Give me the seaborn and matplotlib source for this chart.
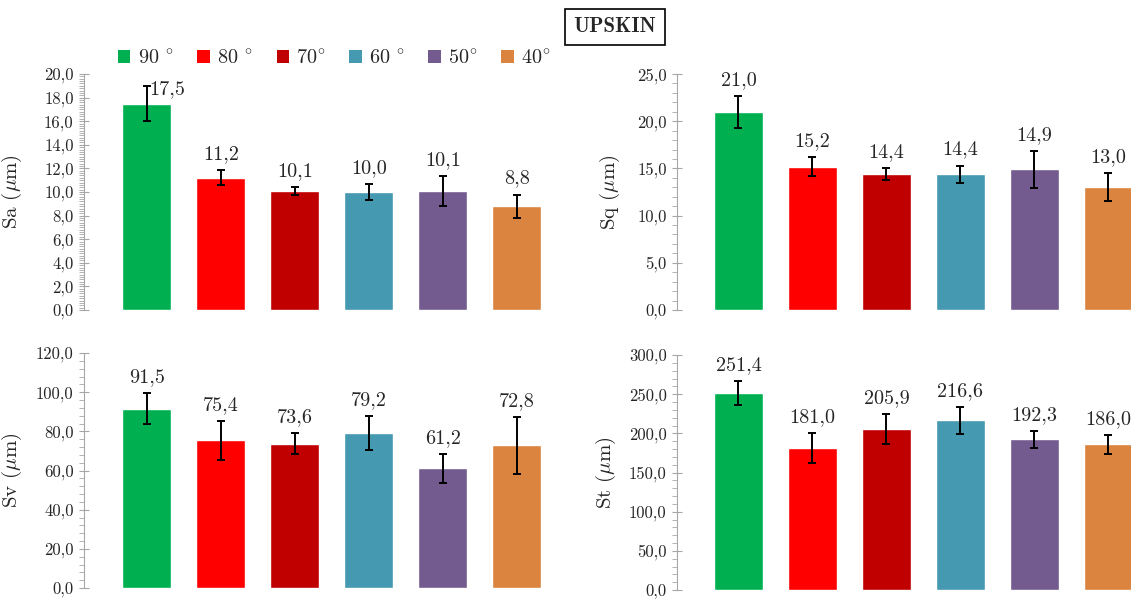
import matplotlib
matplotlib.use("Agg")
import matplotlib.pyplot as plt
from matplotlib.patches import Patch
from matplotlib.ticker import MultipleLocator, AutoMinorLocator, FuncFormatter
import seaborn as sns
import pandas as pd

# data
angles = ["90 $^{\\circ}$", "80 $^{\\circ}$", "70$^{\\circ}$", "60 $^{\\circ}$", "50$^{\\circ}$", "40$^{\\circ}$"]
colors = ["#00B050", "#FF0000", "#C00000", "#4599B1", "#735A8F", "#DA843F"]

sa_mean = [17.5, 11.2, 10.1, 10.0, 10.1, 8.8]
sa_err = [1.5, 0.63, 0.35, 0.68, 1.26, 0.98]
sq_mean = [21.0, 15.2, 14.4, 14.4, 14.9, 13.0]
sq_err = [1.68, 1.04, 0.62, 0.9, 1.93, 1.46]
sv_mean = [91.5, 75.4, 73.6, 79.2, 61.2, 72.8]
sv_err = [8.0, 9.9, 5.3, 8.7, 7.4, 14.5]
st_mean = [251.4, 181.0, 205.9, 216.6, 192.3, 186.0]
st_err = [15.2, 18.8, 19.0, 17.3, 10.7, 12.2]

sns.set_style("white")
plt.rcParams["font.family"] = ["cmr10", "DejaVu Serif"]
plt.rcParams["mathtext.fontset"] = "cm"
plt.rcParams["axes.unicode_minus"] = False

W, H = 1131, 599
fig = plt.figure(figsize=(W / 100, H / 100), dpi=100)

unit = 74.0  # pixels per bar slot
panels = [
    # label, means, errs, ymax, major, minor divisions, axes rect in px (left, bottom, top), xstart, ylabel x
    ("Sa ($\\mu$m)", sa_mean, sa_err, 20, 2, 10, (84, 310, 74), -0.85, 24),
    ("Sq ($\\mu$m)", sq_mean, sq_err, 25, 5, 5, (677, 310, 74), -0.83, 622),
    ("Sv ($\\mu$m)", sv_mean, sv_err, 120, 20, 5, (84, 588, 353), -0.85, 24),
    ("St ($\\mu$m)", st_mean, st_err, 300, 50, 5, (677, 590, 355), -0.83, 618),
]

fmt = FuncFormatter(lambda v, p: f"{v:.1f}".replace(".", ","))
grey = "#a6a6a6"

for label, means, errs, ymax, major, ndiv, (left, bot, top), x0, ylab_x in panels:
    width_px = unit * 6.7
    ax = fig.add_axes([left / W, (H - bot) / H, width_px / W, (bot - top) / H])
    df = pd.DataFrame({"angle": angles, "value": means})
    sns.barplot(data=df, x="angle", y="value", hue="angle", palette=colors,
                legend=False, width=0.66, ax=ax, saturation=1)
    ax.errorbar(range(len(means)), means, yerr=errs, fmt="none", ecolor="black",
                elinewidth=1.4, capsize=3.2, capthick=1.4, zorder=5)
    ax.set_xlim(x0, x0 + 6.7)
    ax.set_ylim(0, ymax)
    ax.yaxis.set_major_locator(MultipleLocator(major))
    ax.yaxis.set_minor_locator(AutoMinorLocator(ndiv))
    ax.yaxis.set_major_formatter(fmt)
    ax.tick_params(axis="y", which="major", direction="inout", length=7, width=0.8,
                   color=grey, labelsize=12, pad=4, left=True)
    ax.tick_params(axis="y", which="minor", direction="out", length=3.5, width=0.6,
                   color=grey, left=True)
    ax.tick_params(axis="x", bottom=False, labelbottom=False)
    for s in ["top", "right", "bottom"]:
        ax.spines[s].set_visible(False)
    ax.spines["left"].set_color(grey)
    ax.spines["left"].set_linewidth(0.8)
    ax.set_xlabel("")
    ax.set_ylabel(label, fontsize=15)
    ax.yaxis.set_label_coords((ylab_x - left) / width_px, 0.5)

    for i, (m, e) in enumerate(zip(means, errs)):
        txt = f"{m:.1f}".replace(".", ",")
        if m + e > 0.93 * ymax:
            # no room above: put the label beside the error bar
            ax.annotate(txt, (i, m), xytext=(2, 10), textcoords="offset points",
                        ha="left", va="center", fontsize=14.5)
        else:
            ax.annotate(txt, (i, m + e), xytext=(0, 11.5), textcoords="offset points",
                        ha="center", va="center", fontsize=14.5)

handles = [Patch(facecolor=c, edgecolor="none", label=a) for a, c in zip(angles, colors)]
fig.legend(handles=handles, ncol=6, loc="center left", bbox_to_anchor=(118 / W, 1 - 58 / H),
           frameon=False, fontsize=14.5, handlelength=0.62, handleheight=0.62,
           handletextpad=0.35, columnspacing=1.18, borderaxespad=0, borderpad=0)

fig.text(615 / W, 1 - 27 / H, "UPSKIN", ha="center", va="center", fontsize=15,
         fontweight="bold", family=["cmb10", "DejaVu Serif"],
         bbox=dict(boxstyle="square,pad=0.4", facecolor="white", edgecolor="black", linewidth=1.2))

fig.savefig("out.png", dpi=100)
